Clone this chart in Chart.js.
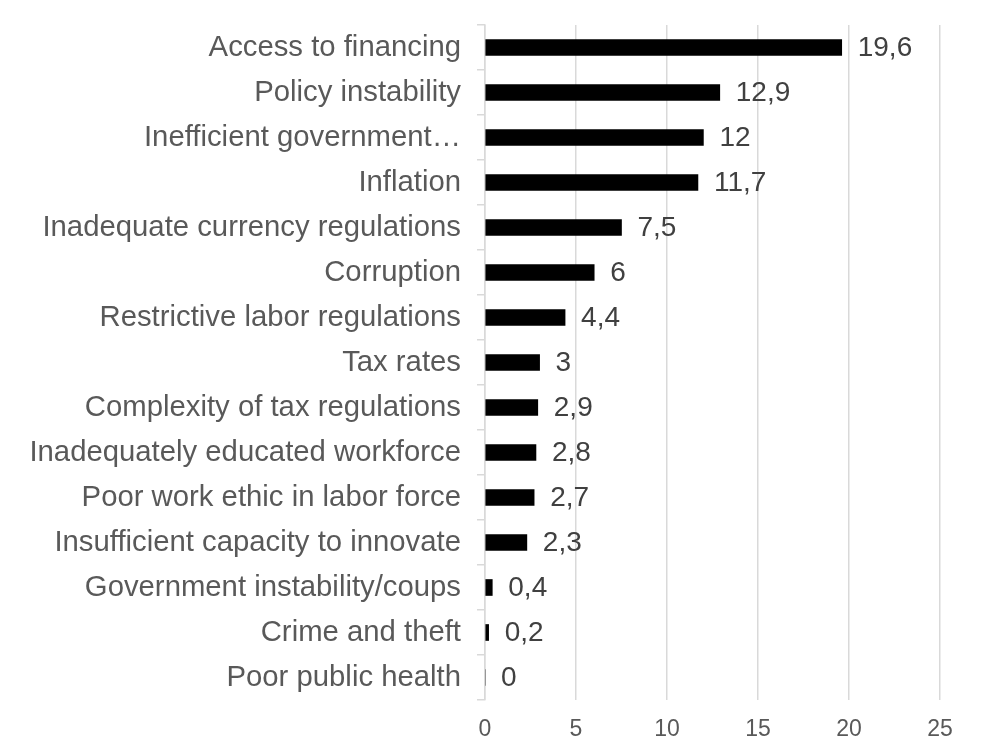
<!DOCTYPE html>
<html>
<head>
<meta charset="utf-8">
<script src="https://cdn.jsdelivr.net/npm/chart.js@4.4.1/dist/chart.umd.min.js"></script>
<style>
  html, body { margin: 0; padding: 0; background: #fff; }
</style>
</head>
<body>
<canvas id="chart1" width="990" height="751"></canvas>
<script>
const categories = [
  'Access to financing',
  'Policy instability',
  'Inefficient government…',
  'Inflation',
  'Inadequate currency regulations',
  'Corruption',
  'Restrictive labor regulations',
  'Tax rates',
  'Complexity of tax regulations',
  'Inadequately educated workforce',
  'Poor work ethic in labor force',
  'Insufficient capacity to innovate',
  'Government instability/coups',
  'Crime and theft',
  'Poor public health'
];
const values = [19.6, 12.9, 12, 11.7, 7.5, 6, 4.4, 3, 2.9, 2.8, 2.7, 2.3, 0.4, 0.2, 0];
const xTicks = [0, 5, 10, 15, 20, 25];

const cht1 = document.getElementById('chart1');

// value labels at the end of each bar, comma decimal
const barLabels = {
  id: 'barLabels',
  afterDatasetsDraw(chart) {
    const ctx = chart.ctx;
    const meta = chart.getDatasetMeta(0);
    ctx.save();
    ctx.font = '28px "Liberation Sans", Arial, sans-serif';
    ctx.fillStyle = '#404040';
    ctx.textAlign = 'left';
    ctx.textBaseline = 'middle';
    meta.data.forEach((bar, i) => {
      const txt = String(values[i]).replace('.', ',');
      ctx.fillText(txt, bar.x + 16, bar.y + 1);
    });
    ctx.restore();
  }
};

// no extra room for half labels at the axis ends
const noPad = (axis) => {
  axis.paddingTop = 0;
  axis.paddingBottom = 0;
};

new Chart(cht1, {
  type: 'bar',
  data: {
    labels: categories,
    datasets: [{
      data: values,
      backgroundColor: '#000000',
      barThickness: 16
    }]
  },
  options: {
    indexAxis: 'y',
    responsive: false,
    animation: false,
    layout: { padding: { top: 25, right: 50, bottom: 0, left: 30 } },
    plugins: {
      legend: { display: false },
      tooltip: { enabled: false }
    },
    scales: {
      x: {
        min: 0,
        max: 25,
        afterBuildTicks: (axis) => { axis.ticks = xTicks.map(v => ({ value: v })); },
        afterFit: (axis) => { axis.height = 51; },
        grid: { color: '#d9d9d9', lineWidth: 1.5, drawTicks: false },
        border: { display: false },
        ticks: {
          padding: 16,
          color: '#595959',
          font: { family: '"Liberation Sans", Arial, sans-serif', size: 23 }
        }
      },
      y: {
        afterFit: noPad,
        grid: { drawOnChartArea: false, color: '#d9d9d9', lineWidth: 1.5, tickLength: 8 },
        border: { color: '#d9d9d9', width: 1.5 },
        ticks: {
          padding: 16,
          color: '#595959',
          autoSkip: false,
          font: { family: '"Liberation Sans", Arial, sans-serif', size: 29.3 }
        }
      }
    }
  },
  plugins: [barLabels]
});
</script>
</body>
</html>
